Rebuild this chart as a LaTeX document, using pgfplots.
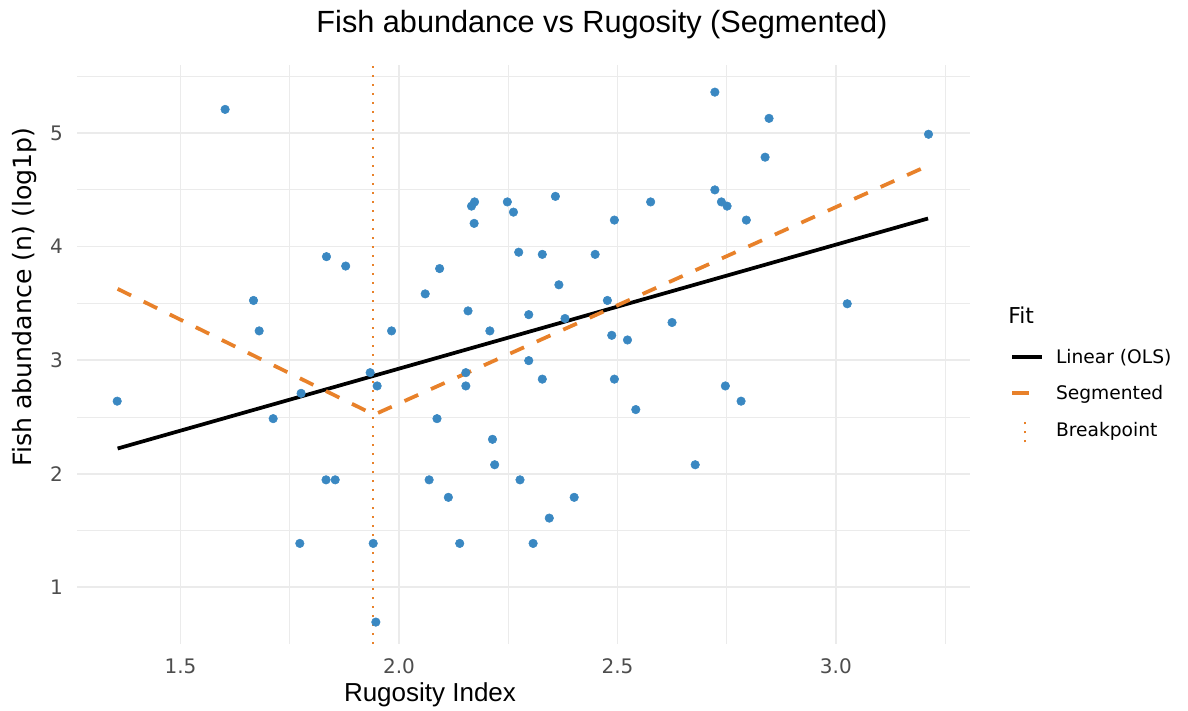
\documentclass[border=0pt]{standalone}
\usepackage{fontspec}
\setmainfont{DejaVu Sans}
\newfontfamily\lib{Liberation Sans}
\usepackage{pgfplots}
\pgfplotsset{compat=1.18}
\definecolor{ptblue}{HTML}{3A88C2}
\definecolor{segor}{HTML}{E8812A}
\definecolor{gridc}{HTML}{EBEBEB}
\definecolor{tickc}{HTML}{4D4D4D}

\pgfplotsset{
    lineimg/.style={legend image code/.code={\path[draw=none,fill=none] (0pt,-9pt) rectangle (22.5pt,9pt); \draw[##1] (0pt,0pt) -- (22.5pt,0pt);}},
    dashimg/.style={legend image code/.code={\path[draw=none,fill=none] (0pt,-9pt) rectangle (22.5pt,9pt); \draw[##1, solid] (0pt,0pt) -- (12.75pt,0pt);}},
    vlineimg/.style={legend image code/.code={\path[draw=none,fill=none] (0pt,-9pt) rectangle (22.5pt,9pt); \draw[##1] (9.75pt,-9pt) -- (9.75pt,9pt);}},
}

% rugosity index, log1p(fish abundance)
\pgfplotstableread{
x y
1.355 2.639
1.602 5.209
1.667 3.526
1.680 3.258
1.712 2.485
1.773 1.386
1.776 2.708
1.833 1.946
1.834 3.912
1.854 1.946
1.878 3.829
1.934 2.890
1.941 1.386
1.947 0.693
1.950 2.773
1.983 3.258
2.060 3.584
2.069 1.946
2.087 2.485
2.093 3.807
2.113 1.792
2.139 1.386
2.153 2.890
2.153 2.773
2.158 3.434
2.166 4.357
2.172 4.205
2.173 4.394
2.208 3.258
2.214 2.303
2.219 2.079
2.248 4.394
2.262 4.304
2.274 3.951
2.277 1.946
2.297 3.401
2.297 2.996
2.307 1.386
2.328 3.932
2.328 2.833
2.344 1.609
2.358 4.443
2.366 3.664
2.380 3.367
2.401 1.792
2.449 3.932
2.477 3.526
2.487 3.219
2.493 4.234
2.493 2.833
2.523 3.178
2.542 2.565
2.576 4.394
2.625 3.332
2.678 2.079
2.723 5.361
2.723 4.500
2.738 4.394
2.747 2.773
2.751 4.357
2.783 2.639
2.795 4.234
2.838 4.788
2.847 5.130
3.026 3.497
3.212 4.990
}\fishdata

\begin{document}
\begin{tikzpicture}
\path (0pt,0pt) rectangle (891pt,532.5pt);
\begin{axis}[
    at={(57.75pt,49.5pt)}, anchor=south west,
    scale only axis, width=669.75pt, height=434.25pt,
    xmin=1.263, xmax=3.307, ymin=0.5, ymax=5.6,
    axis line style={draw=none},
    major tick length=0pt, minor tick length=0pt,
    xtick={1.5,2,2.5,3}, ytick={1,2,3,4,5},
    minor xtick={1.75,2.25,2.75,3.25},
    minor ytick={1.5,2.5,3.5,4.5,5.5},
    grid=both,
    major grid style={draw=gridc, line width=1.2pt},
    minor grid style={draw=gridc, line width=0.6pt},
    /pgf/number format/assume math mode=true,
    xticklabel style={/pgf/number format/.cd, fixed, fixed zerofill, precision=1, /tikz/.cd,
        font=\fontsize{15}{17}\selectfont, text=tickc, anchor=base, inner sep=0pt, yshift=-21.75pt},
    yticklabel style={font=\fontsize{15}{17}\selectfont, text=tickc, anchor=east, inner sep=0pt, xshift=-10.5pt},
    legend style={at={(axis description cs:1.0448,0.5164)}, anchor=north west,
        draw=none, fill=none, inner sep=0pt,
        font=\fontsize{14}{16}\selectfont, row sep=9pt,
        nodes={inner sep=0pt},
        /tikz/every odd column/.append style={column sep=9pt}},
    legend cell align=left,
]
\addplot[only marks, mark=*, mark size=3.2pt, color=ptblue, forget plot] table[x=x, y=y] {\fishdata};

\addplot[black, line width=2.8pt, lineimg]
    coordinates {(1.356,2.222) (3.211,4.248)};
\addlegendentry{Linear (OLS)}

\addplot[segor, line width=2.8pt, dash pattern=on 11.25pt off 10.5pt, dashimg]
    coordinates {(1.356,3.628) (1.943,2.520) (3.212,4.715)};
\addlegendentry{Segmented}

\addplot[segor, line width=1.5pt, dash pattern=on 1.5pt off 5.25pt, vlineimg]
    coordinates {(1.941,0.5) (1.941,5.6)};
\addlegendentry{Breakpoint}
\end{axis}
\node[anchor=base, font=\lib\fontsize{23}{26}\selectfont] at (451.5pt,507.75pt) {Fish abundance vs Rugosity (Segmented)};
\node[anchor=base, font=\lib\fontsize{19.5}{22}\selectfont] at (322.5pt,6.75pt) {Rugosity Index};
\node[anchor=base, rotate=90, font=\fontsize{18.9}{21}\selectfont] at (23.25pt,309.75pt) {Fish abundance (n) (log1p)};
\node[anchor=west, inner sep=0pt, font=\fontsize{16.4}{19}\selectfont] at (756pt,296.25pt) {Fit};
\end{tikzpicture}
\end{document}
